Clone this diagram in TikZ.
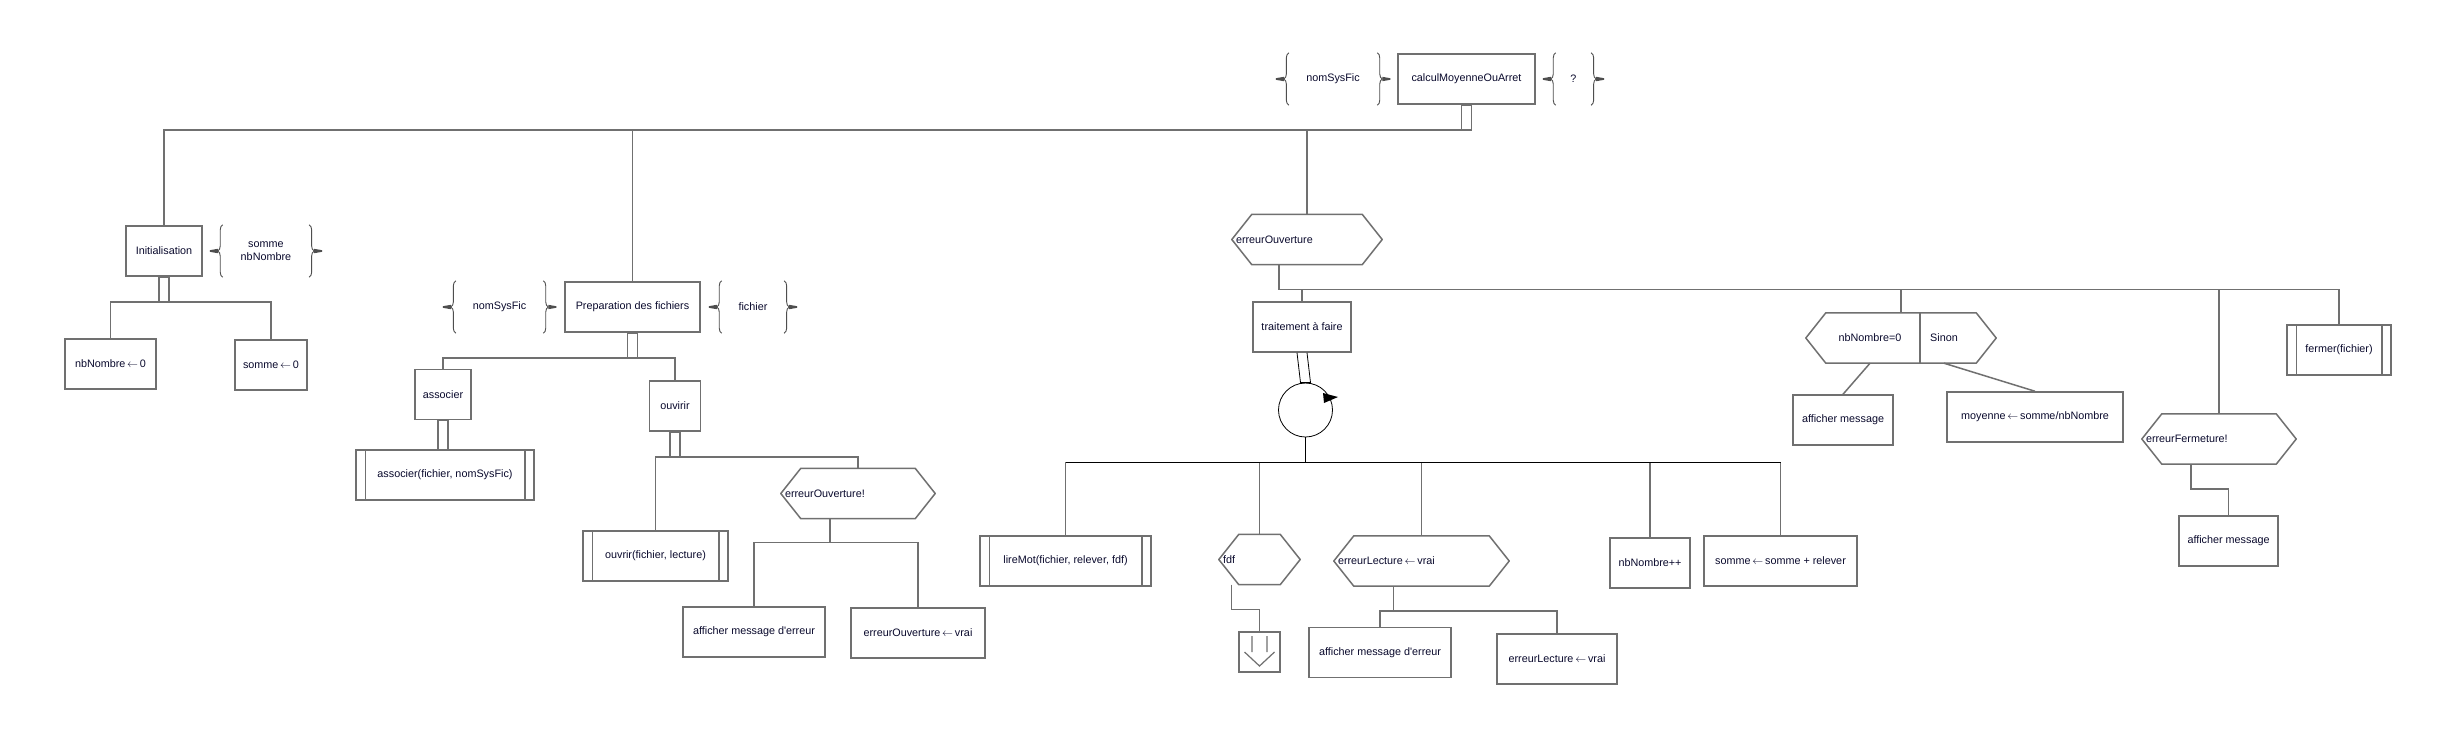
\documentclass[tikz,border=0pt]{standalone}
\usepackage{fontspec}
\setmainfont{Liberation Sans}
\usepackage{tikz}
\usetikzlibrary{positioning}
\usetikzlibrary{calc}
\usetikzlibrary{decorations.pathreplacing}

\definecolor{grisln}{RGB}{112,112,112}
\definecolor{txt}{RGB}{10,10,45}
\newcommand{\fl}{\,$\leftarrow$\,}

\tikzset{
  every node/.style={font=\fontsize{10.8}{13}\selectfont,text=txt},
  ln/.style={draw=grisln,line width=1.5pt},
  fin/.style={draw=black,line width=0.8pt},
  brc/.style={draw=grisln!70!black,line width=0.9pt,decorate,decoration={brace,amplitude=5pt}},
  box/.style={ln,rectangle,minimum width=#1,minimum height=50,inner sep=2pt},
  proc/.style={box=#1,append after command={\pgfextra{
    \draw[ln] ([xshift=10pt]\tikzlastnode.north west) -- ([xshift=10pt]\tikzlastnode.south west);
    \draw[ln] ([xshift=-10pt]\tikzlastnode.north east) -- ([xshift=-10pt]\tikzlastnode.south east);}}},
  hexa/.style={text width=#1pt,inner xsep=4pt,minimum height=50,align=left,append after command={\pgfextra{
    \draw[ln,line join=round] ([xshift=20pt]\tikzlastnode.north west) -- ([xshift=-20pt]\tikzlastnode.north east)
      -- (\tikzlastnode.east) -- ([xshift=-20pt]\tikzlastnode.south east)
      -- ([xshift=20pt]\tikzlastnode.south west) -- (\tikzlastnode.west) -- cycle;}}},
  flux/.style={minimum width=#1,minimum height=52,inner sep=0pt,align=center,append after command={\pgfextra{
    \draw[brc] (\tikzlastnode.south west) -- (\tikzlastnode.north west);
    \draw[brc] (\tikzlastnode.north east) -- (\tikzlastnode.south east);
    \fill[grisln!70!black] ([xshift=-5pt]\tikzlastnode.west) +(0,2.2) -- +(-8,0.8) -- +(-8,-0.8) -- +(0,-2.2) -- cycle;
    \fill[grisln!70!black] ([xshift=5pt]\tikzlastnode.east) +(0,2.2) -- +(8,0.8) -- +(8,-0.8) -- +(0,-2.2) -- cycle;}}},
}

\begin{document}
\begin{tikzpicture}[x=1pt,y=-1pt]
  \path[fill=white,use as bounding box] (0,0) rectangle (2446,732);
  %top
  \node[box=137] (main) at (1466.5,79) {calculMoyenneOuArret};
  \node[flux=88,left=20pt of main] (in0) {nomSysFic};
  \node[flux=35,right=20pt of main] (out0) {?};
  \coordinate[below=25pt of main] (mainS);

  %left
  \node[box=76] (init) at (164,251) {Initialisation};
  \node[flux=86,right=20pt of init] (initIn) {somme\\nbNombre};
  \coordinate[below=25pt of init] (initS);
  \node[box=91] (nb0) at (110.5,364) {nbNombre\fl 0};
  \node[box=72] (s0) at (271,365) {somme\fl 0};

  %middle
  \node[box=135] (prep) at (632.5,307) {Preparation des fichiers};
  \node[flux=87,left=21pt of prep] (prepIn) {nomSysFic};
  \node[flux=62,right=21pt of prep] (prepOut) {fichier};
  \coordinate[below=25pt of prep] (prepS);
  \node[box=56] (assoc) at (443,394.5) {associer};
  \node[proc=178] (assocP) at (445,475) {associer(fichier, nomSysFic)};
  \coordinate (assocS) at (assoc.south |- assocP.north);
  \node[box=51] (ouv) at (675,406) {ouvirir};
  \coordinate[below=25pt of ouv] (ouvS);
  \node[proc=145] (ouvP) at (655.5,556) {ouvrir(fichier, lecture)};
  \node[hexa=146] (eo1) at (858,493.5) {erreurOuverture!};
  \coordinate (eo1J) at ($(eo1.south)+(-28,24)$);
  \node[box=142] (err1) at (754,632) {afficher message d\textquotesingle erreur};
  \node[box=134] (eov1) at (918,633) {erreurOuverture\fl vrai};

  %right
  \node[hexa=142] (eo) at (1307,239.5) {erreurOuverture};
  \coordinate (eoJ) at ($(eo.south)+(-28,25)$);
  \node[box=98] (trt) at (1302,327) {traitement à faire};
  \node[circle,fin,minimum size=54,inner sep=0pt] (loop) at (1305.5,410) {};
  \coordinate (loopJ) at ($(loop.south)+(0,25)$);
  \node[proc=171] (lire) at (1065.5,561) {lireMot(fichier, relever, fdf)};
  \node[hexa=73] (fdf) at (1259.5,559.5) {fdf};
  \coordinate (fdfJ) at ($(fdf.south)+(-28,25)$);
  \node[ln,minimum width=41,minimum height=40,inner sep=0pt] (exit) at (1259.5,652) {};
  \node[hexa=167] (el) at (1421.5,561) {erreurLecture\fl vrai};
  \coordinate (elJ) at ($(el.south)+(-28,25)$);
  \node[box=142] (err2) at (1380,652.5) {afficher message d\textquotesingle erreur};
  \node[box=120] (elv) at (1557,659) {erreurLecture\fl vrai};
  \node[box=80] (nbpp) at (1650,563) {nbNombre++};
  \node[box=153] (sum) at (1780.5,561) {somme\fl somme + relever};
  \node[hexa=182] (sel) at (1901,338) {};
  \node (selA) at (1870,338) {nbNombre=0};
  \node (selB) at (1944,338) {Sinon};
  \node[box=100] (msg1) at (1843,420) {afficher message};
  \node[box=176] (moy) at (2035,417) {moyenne\fl somme/nbNombre};
  \node[hexa=146] (ef) at (2219,439) {erreurFermeture!};
  \coordinate (efJ) at ($(ef.south)+(-28,25)$);
  \node[box=99] (msg2) at (2228.5,541) {afficher message};
  \node[proc=104] (ferm) at (2339,350) {fermer(fichier)};

  %stems
  \draw[ln] ([xshift=-5pt]main.south) rectangle ([xshift=5pt]mainS);
  \draw[ln] ([xshift=-5pt]init.south) rectangle ([xshift=5pt]initS);
  \draw[ln] ([xshift=-5pt]prep.south) rectangle ([xshift=5pt]prepS);
  \draw[ln] ([xshift=-5pt]assoc.south) rectangle ([xshift=5pt]assocS);
  \draw[ln] ([xshift=-5pt]ouv.south) rectangle ([xshift=5pt]ouvS);
  \draw[fin] ([xshift=-5pt]trt.south) -- ([xshift=-5pt]loop.north) -- ([xshift=5pt]loop.north) -- ([xshift=5pt]trt.south);

  %links
  \draw[ln] (init.north) |- (mainS);
  \draw[ln] (prep.north) |- (mainS);
  \draw[ln] (eo.north) |- (mainS);
  \draw[ln] (nb0.north) |- (initS) -| (s0.north);
  \draw[ln] (assoc.north) |- (prepS) -| (ouv.north);
  \draw[ln] (ouvP.north) |- (ouvS) -| (eo1.north);
  \draw[ln] (eo1.south -| eo1J) -- (eo1J);
  \draw[ln] (err1.north) |- (eo1J) -| (eov1.north);
  \draw[ln] (eo.south -| eoJ) -- (eoJ) -| (ferm.north);
  \draw[ln] (eoJ) -| (trt.north);
  \draw[ln] (eoJ) -| (sel.north);
  \draw[ln] (eoJ) -| (ef.north);
  \foreach \n in {lire,fdf,el,nbpp,sum}
    \draw[ln] (\n.north) -- (\n.north |- loopJ);
  \draw[fin] (loop.south) -- (loopJ);
  \draw[fin] (lire.north |- loopJ) -- (sum.north |- loopJ);
  \fill[black] (loop.center) +(17.5,-17) -- +(32.5,-13) -- +(18.5,-7) -- cycle;
  \draw[ln] (fdf.south -| fdfJ) -- (fdfJ) -| (exit.north);
  \draw[ln,line width=1.2pt] (exit.center) +(-7.5,-16) -- +(-7.5,0) +(7.5,-16) -- +(7.5,0)
    +(-15,0) -- +(0,14) -- +(15,0);
  \draw[ln] (el.south -| elJ) -- (elJ);
  \draw[ln] (err2.north) |- (elJ) -| (elv.north);
  \draw[ln] ([xshift=114pt]sel.north west) -- ([xshift=114pt]sel.south west);
  \draw[ln] (selA |- sel.south) -- (msg1.north);
  \draw[ln] (selB |- sel.south) -- (moy.north);
  \draw[ln] (ef.south -| efJ) -- (efJ) -| (msg2.north);
\end{tikzpicture}
\end{document}
